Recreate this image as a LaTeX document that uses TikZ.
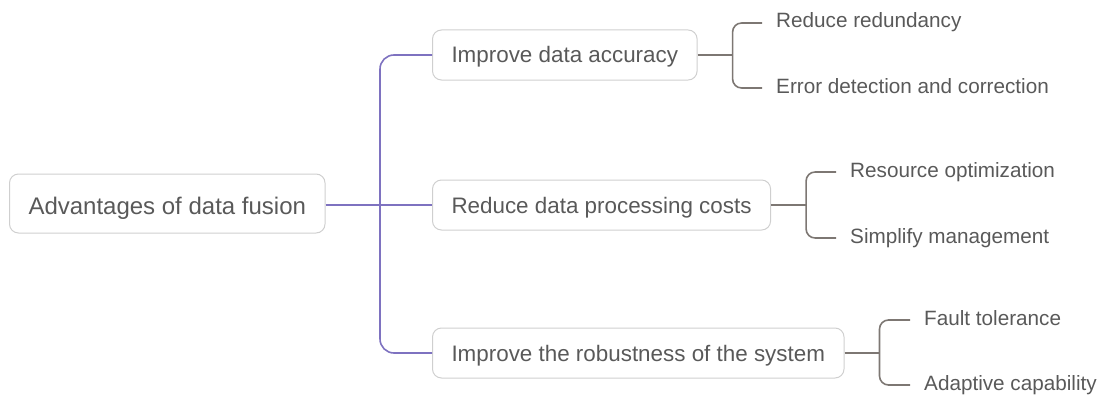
\documentclass[tikz,border=0pt]{standalone}
\usepackage{fontspec}
\setmainfont{Liberation Sans}
\usetikzlibrary{positioning,calc}
\definecolor{trunkcol}{HTML}{7E72C0}
\definecolor{twigcol}{HTML}{7D7773}
\definecolor{inkcol}{HTML}{595959}
\definecolor{framecol}{HTML}{CFCFCF}
\tikzset{
rootbox/.style = {draw=framecol, line width=1pt, rounded corners=9pt, anchor=west, text=inkcol, font=\fontsize{24}{28}\selectfont, inner xsep=19pt, minimum height=59pt, text height=21pt, text depth=0pt},
topic/.style = {rootbox, font=\fontsize{22.4}{26}\selectfont, minimum height=50pt, text height=16pt},
leaf/.style = {anchor=west, text=inkcol, font=\fontsize{20.7}{24}\selectfont, inner xsep=14pt, inner ysep=0pt, text height=12pt, text depth=2pt},
trunk/.style = {draw=trunkcol, line width=1.6pt, rounded corners=14pt},
twig/.style = {draw=twigcol, line width=1.6pt, rounded corners=9pt},
}
\begin{document}
\begin{tikzpicture}[x=1pt, y=-1pt]
      \useasboundingbox (0,0) rectangle (1100,396);
      \node [rootbox] (root) at (9,203.5) {Advantages of data fusion};
      \node [topic] (acc) at (432,55) {Improve data accuracy};
      \node [topic] (cost) at (432,205) {Reduce data processing costs};
      \node [topic] (rob) at (432,353) {Improve the robustness of the system};
      \node [leaf] (red) at (762,23) {Reduce redundancy};
      \node [leaf] (err) at (762,88) {Error detection and correction};
      \node [leaf] (res) at (836,172) {Resource optimization};
      \node [leaf] (simp) at (836,238) {Simplify management};
      \node [leaf] (fault) at (910,320) {Fault tolerance};
      \node [leaf] (adapt) at (910,385) {Adaptive capability};
      % purple trunk
      \coordinate (hub) at (380,205);
      \draw [trunk] (root.east |- cost.west) -- (cost.west);
      \draw [trunk] (acc.west) -| (hub) |- (rob.west);
      % grey brackets
      \coordinate (b1) at ($(acc.east)+(35,0)$);
      \coordinate (b2) at ($(cost.east)+(35,0)$);
      \coordinate (b3) at ($(rob.east)+(35,0)$);
      \draw [twig] (acc.east) -- (b1);
      \draw [twig] (red.west) -| (b1) |- (err.west);
      \draw [twig] (cost.east) -- (b2);
      \draw [twig] (res.west) -| (b2) |- (simp.west);
      \draw [twig] (rob.east) -- (b3);
      \draw [twig] (fault.west) -| (b3) |- (adapt.west);
\end{tikzpicture}
\end{document}
